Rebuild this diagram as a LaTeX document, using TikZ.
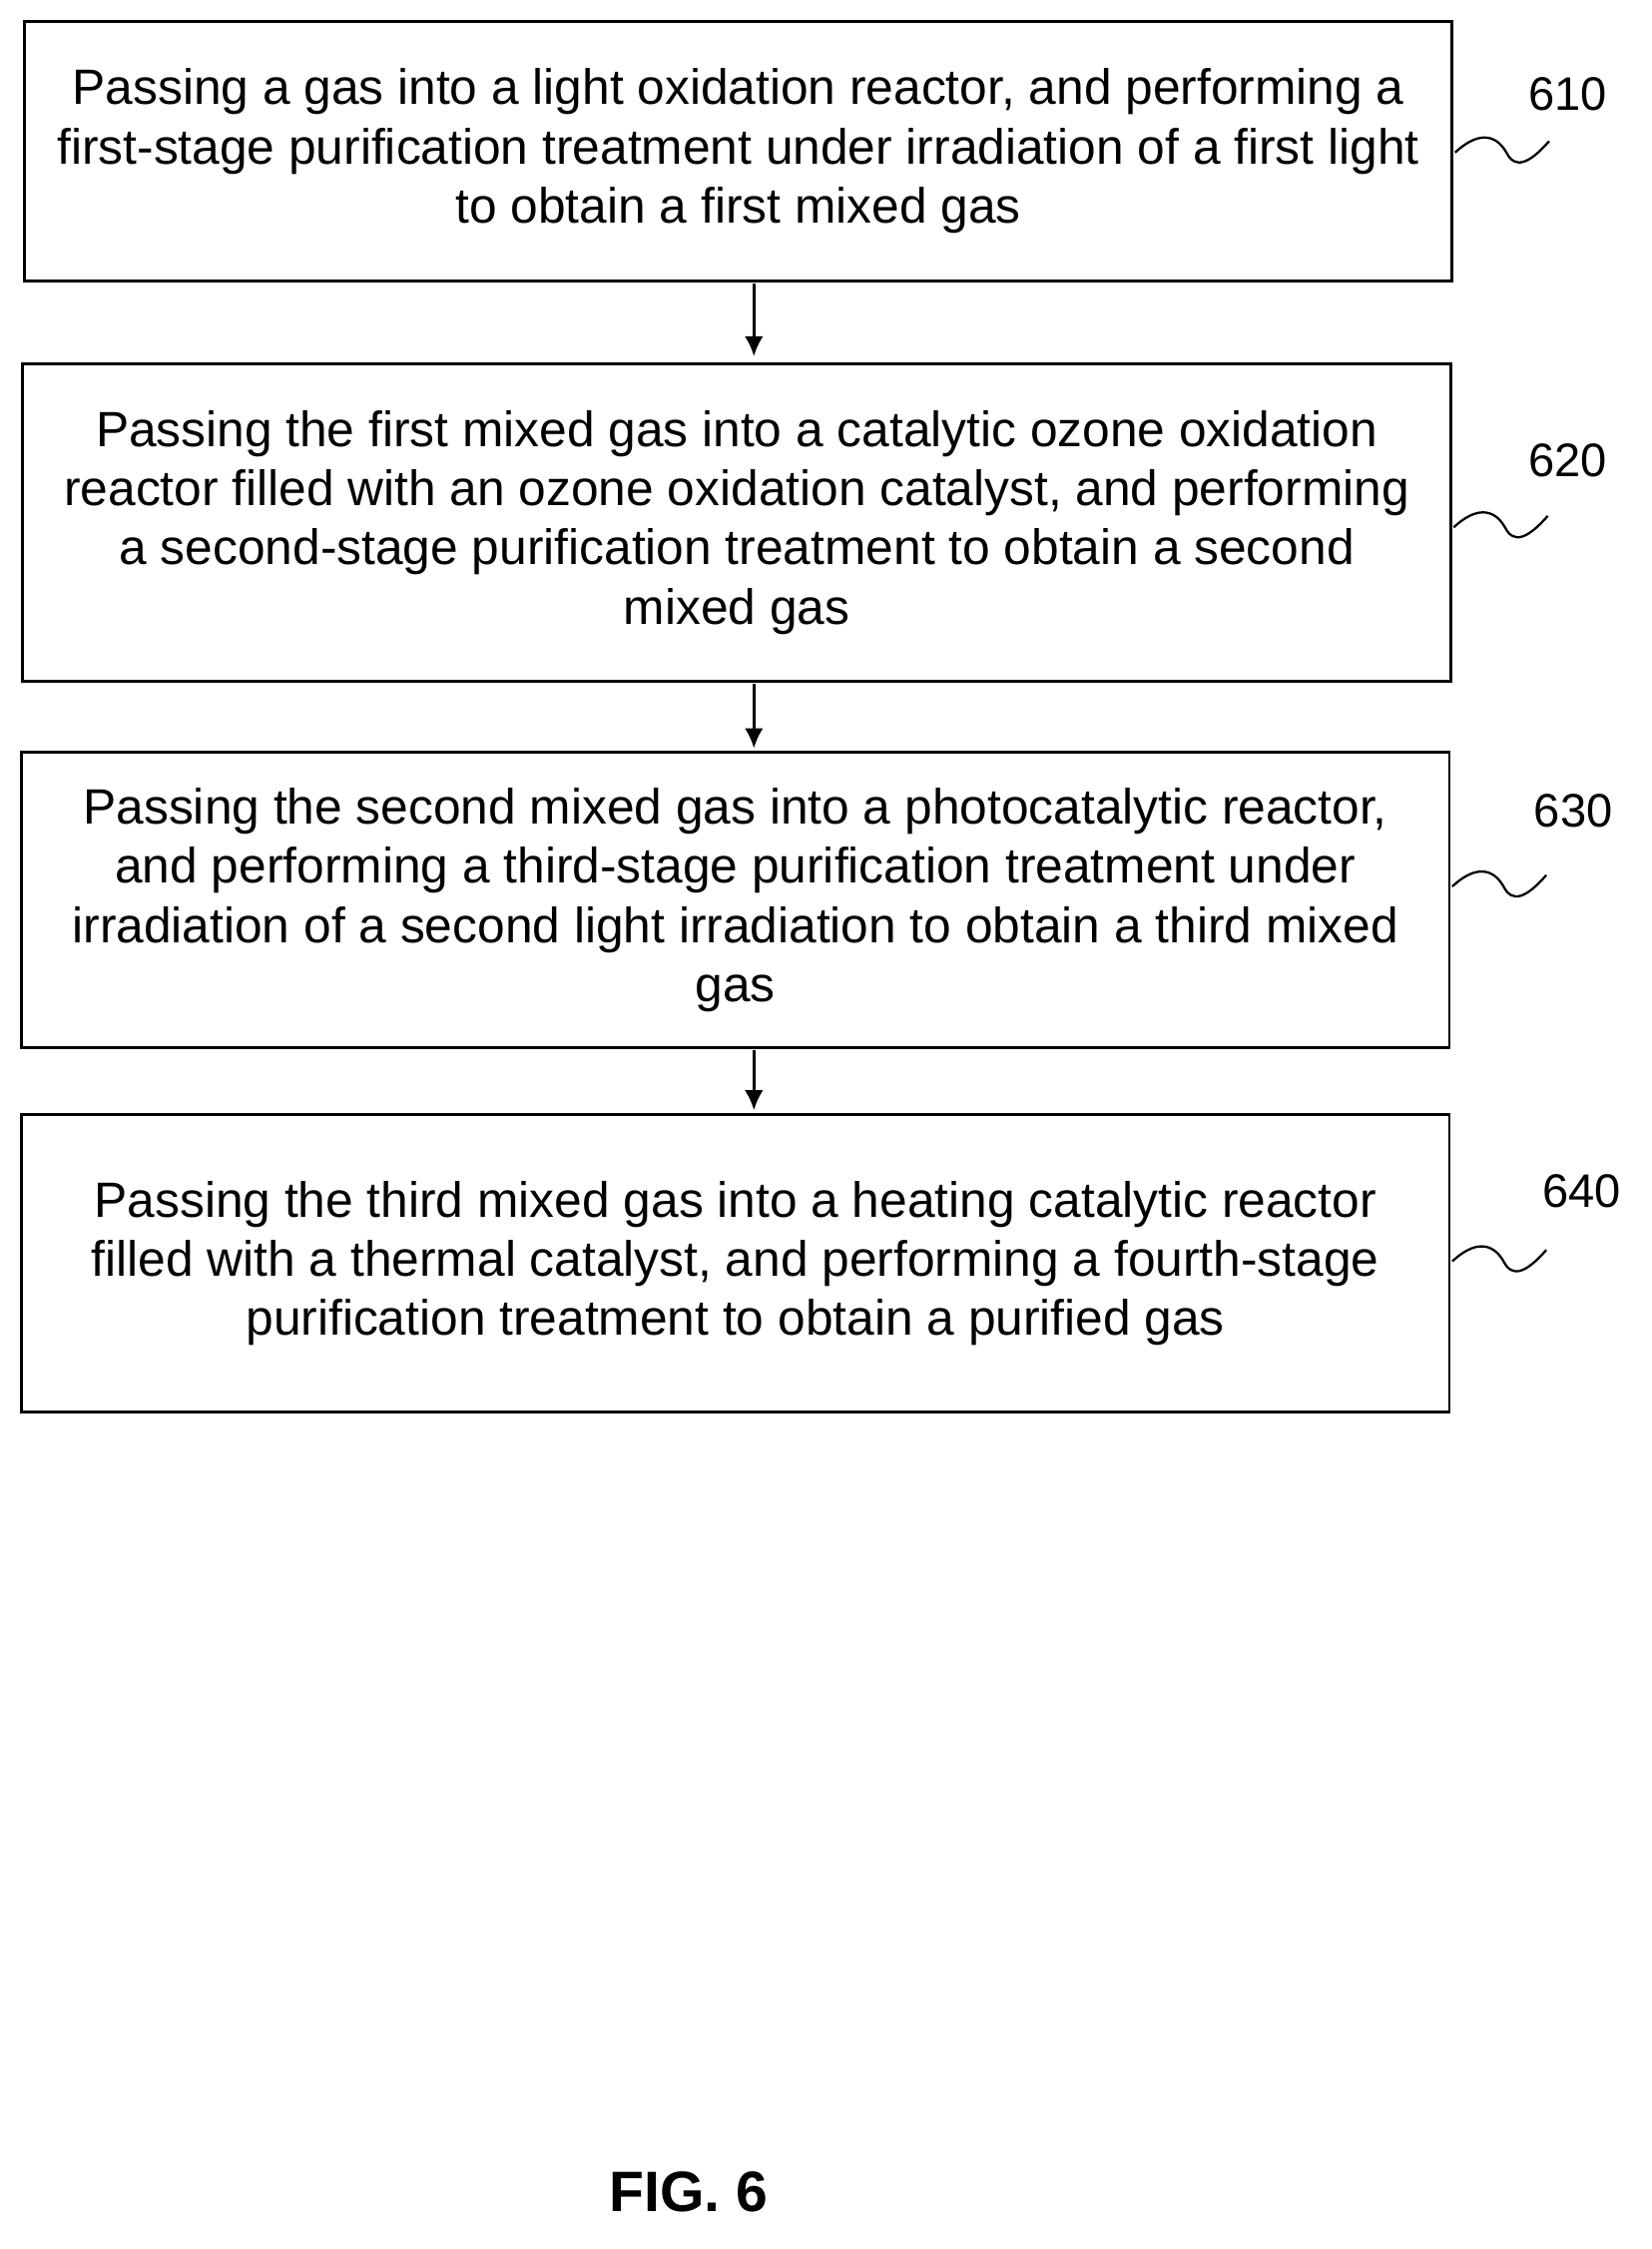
\documentclass[tikz,border=0pt]{standalone}
\usepackage{fontspec}
\setmainfont{Liberation Sans}
\usetikzlibrary{arrows.meta}
\begin{document}
\begin{tikzpicture}[x=1pt,y=-1pt,
  box/.style={draw,line width=2pt,minimum width=1002pt,align=center,inner sep=0pt,font=\fontsize{34.8}{41.5}\selectfont},
  arr/.style={line width=2pt,-{Latex[length=14pt,width=13pt]}},
  lab/.style={font=\fontsize{33}{38}\selectfont},
  sq/.style={line width=1.6pt}]
\useasboundingbox (0,0) rectangle (1159,1578);
\node[box,minimum height=182pt] (b1) at (518,106) {Passing a gas into a light oxidation reactor, and performing a\\first-stage purification treatment under irradiation of a first light\\to obtain a first mixed gas};
\node[box,minimum height=223pt] (b2) at (517,366.5) {Passing the first mixed gas into a catalytic ozone oxidation\\reactor filled with an ozone oxidation catalyst, and performing\\a second-stage purification treatment to obtain a second\\mixed gas};
\node[box,minimum height=207pt] (b3) at (516,631.5) {Passing the second mixed gas into a photocatalytic reactor,\\and performing a third-stage purification treatment under\\irradiation of a second light irradiation to obtain a third mixed\\gas};
\node[box,minimum height=209pt] (b4) at (516,886.5) {Passing the third mixed gas into a heating catalytic reactor\\filled with a thermal catalyst, and performing a fourth-stage\\purification treatment to obtain a purified gas};
\draw[arr] (529,199) -- (529,250);
\draw[arr] (529,480) -- (529,525);
\draw[arr] (529,737) -- (529,779);
\node[lab] (l1) at (1100,66) {610};
\node[lab] (l2) at (1100,323) {620};
\node[lab] (l3) at (1104,569) {630};
\node[lab] (l4) at (1110,836) {640};
\foreach \y/\x in {107/1021,370/1020,622/1019,885/1019}{
  \draw[sq] (\x,\y) .. controls (\x+15,\y-14) and (\x+28,\y-14) .. (\x+36,\y) .. controls (\x+42,\y+12) and (\x+52,\y+8) .. (\x+66,\y-8);}
\node[font=\bfseries\fontsize{40}{46}\selectfont] (fig) at (483,1538) {FIG. 6};
\end{tikzpicture}
\end{document}
